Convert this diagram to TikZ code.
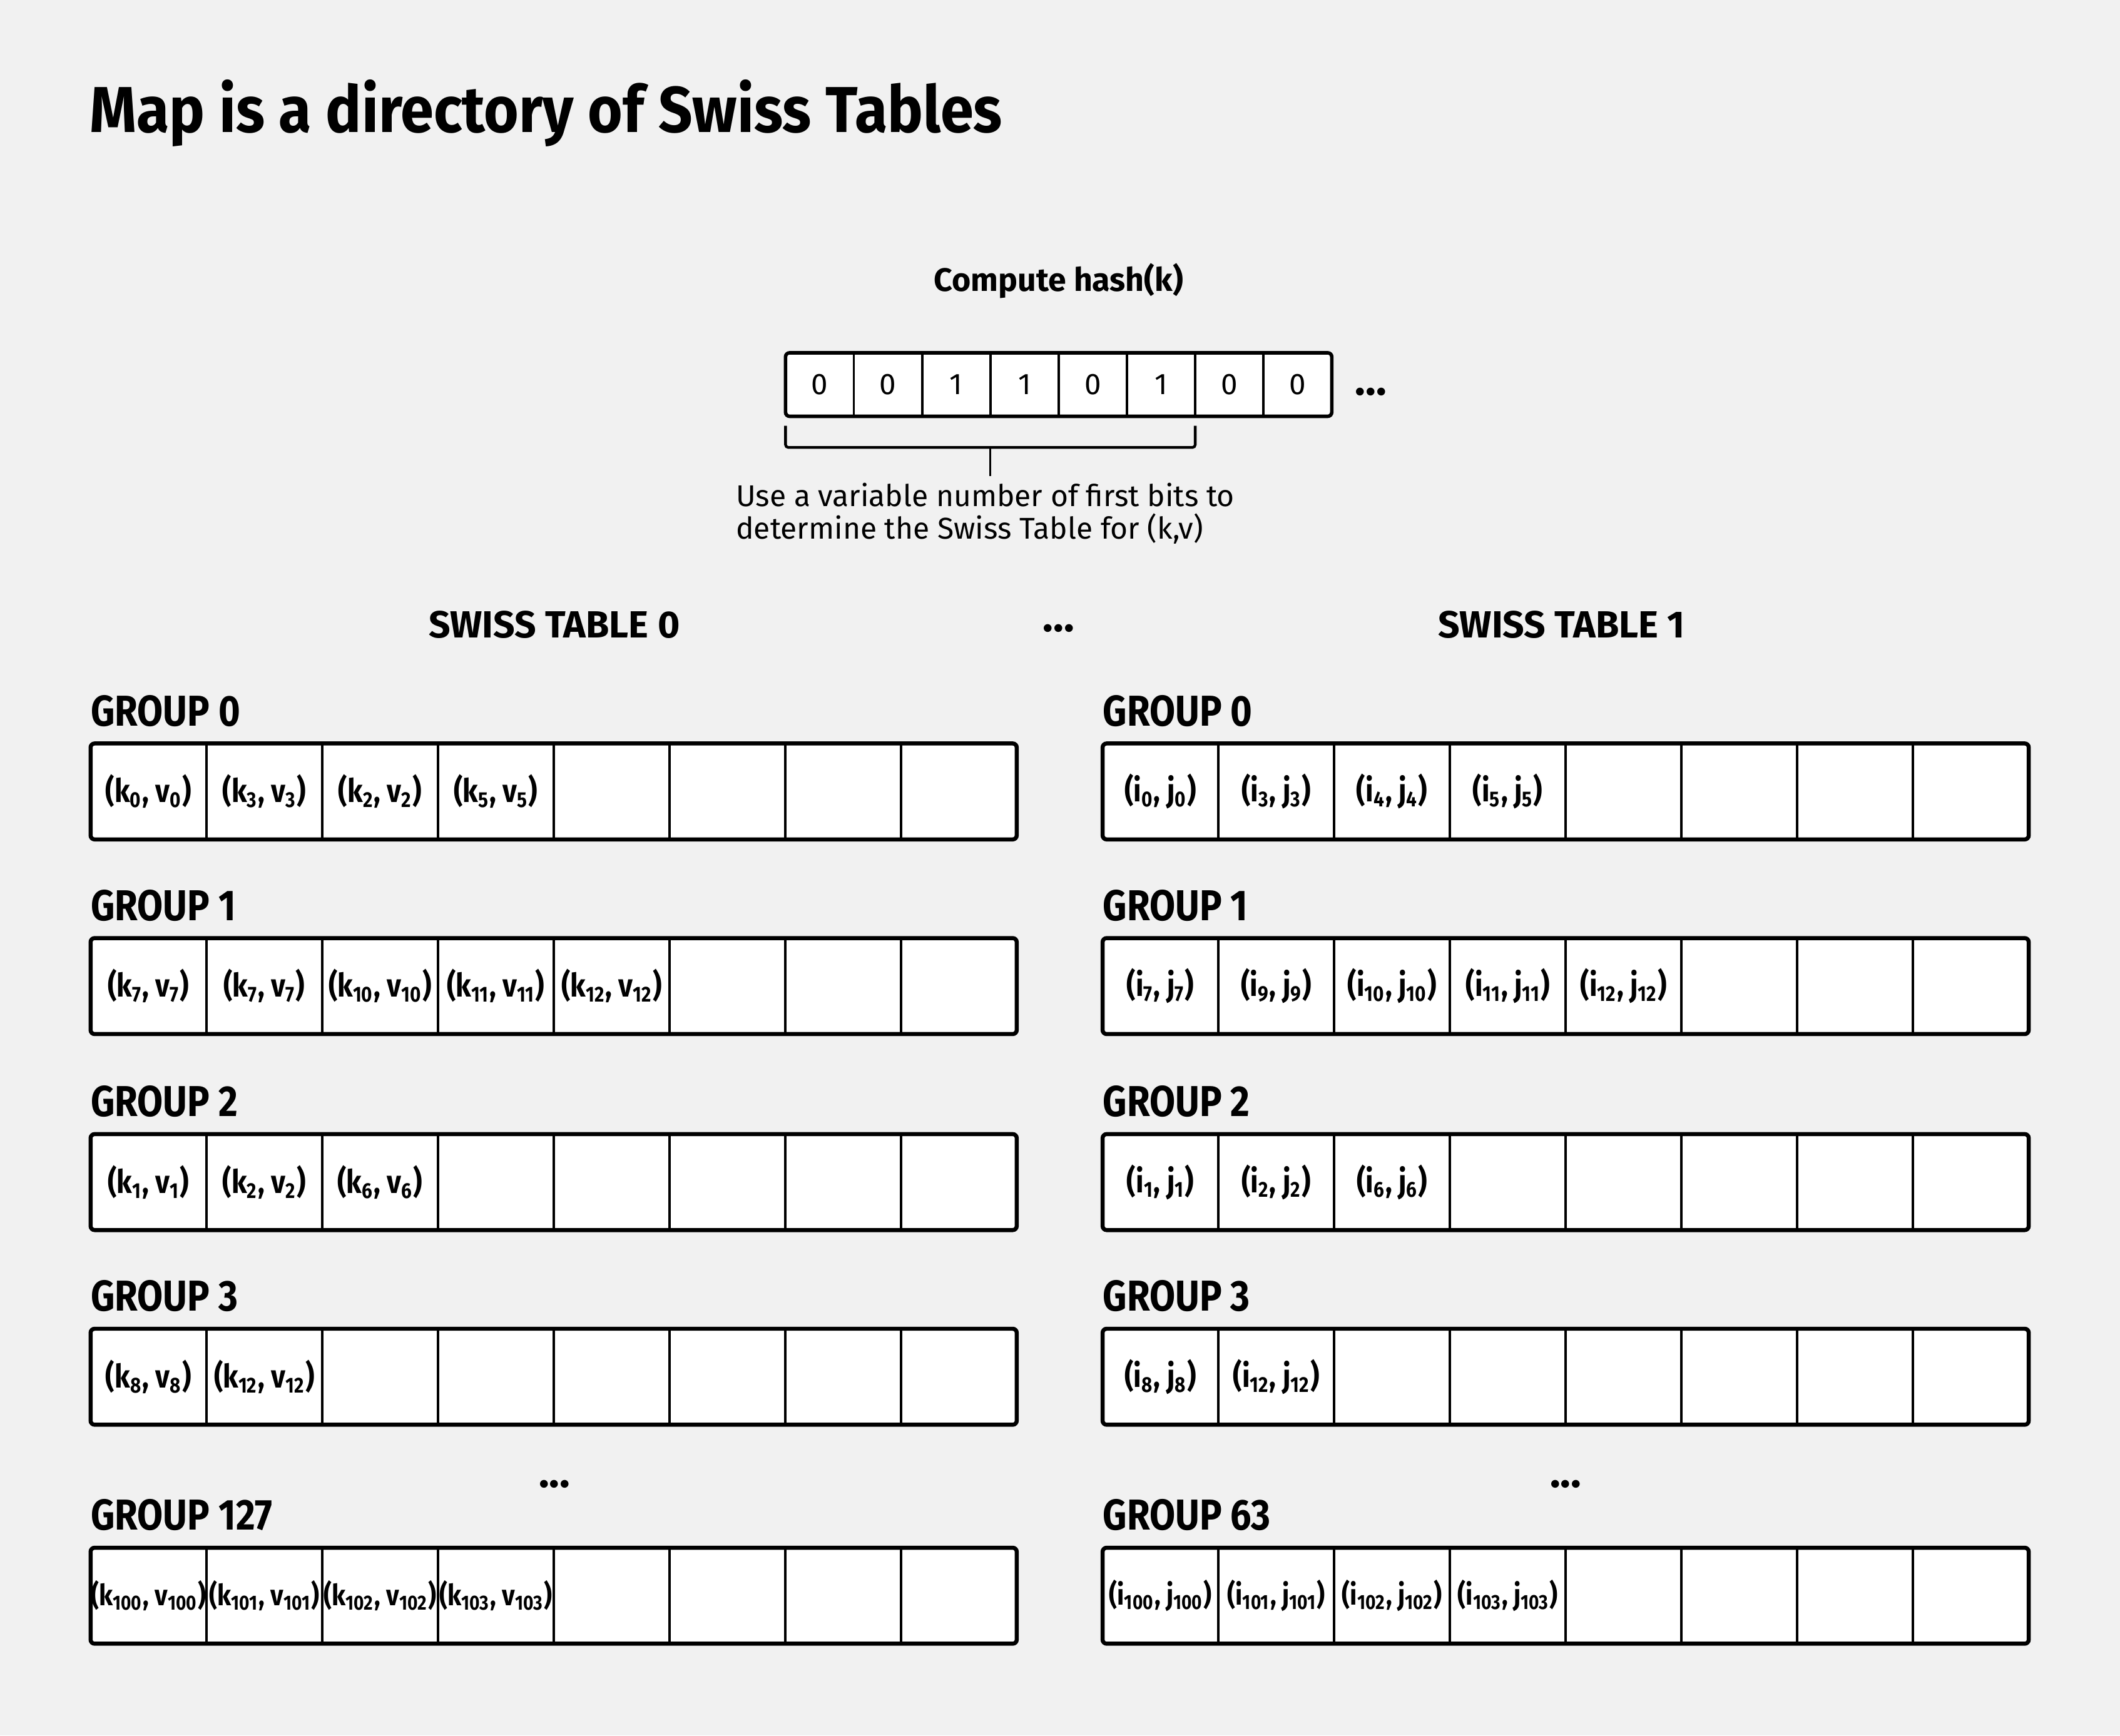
\documentclass[tikz,border=0pt]{standalone}
\usepackage{fontspec}
\setmainfont{Fira Sans}[FakeStretch=0.86]
\newfontfamily\widefont{Fira Sans}
\newfontfamily\titlefont{Fira Sans}[FakeStretch=0.92]
\newcommand{\subi}[1]{\textsubscript{#1}}
\definecolor{paper}{HTML}{F1F1F1}

\begin{document}
\begin{tikzpicture}[x=0.5pt,y=-0.5pt]
	\tikzset{
		group/.style={draw, fill=white, line width=1.5pt, rounded corners=1.5pt, outer sep=0pt, inner sep=0pt, minimum width=342.5pt, minimum height=35.5pt},
		bits/.style={draw, fill=white, line width=1.3pt, rounded corners=1.5pt, outer sep=0pt, inner sep=0pt, minimum width=202pt, minimum height=23.5pt},
		bit/.style={font=\widefont\fontsize{11}{13}\selectfont, inner sep=0pt},
		pair/.style={font=\bfseries\fontsize{12}{14}\selectfont, inner sep=0pt},
		longpair/.style={font=\bfseries\fontsize{10.8}{13}\selectfont, inner sep=0pt},
		glabel/.style={anchor=base west, font=\bfseries\fontsize{16}{18}\selectfont, inner sep=0pt},
		thead/.style={font=\widefont\bfseries\fontsize{14}{16}\selectfont, inner sep=0pt},
		more/.style={font=\widefont\bfseries\fontsize{16}{18}\selectfont, inner sep=0pt},
		divider/.style={line width=0.9pt},
		brace/.style={line width=1pt, rounded corners=1pt},
		stem/.style={line width=0.6pt}
	};

	\fill[paper] (0,0) rectangle (1568,1284);

	\node[anchor=base west, inner sep=0pt, font=\titlefont\bfseries\fontsize{24}{28}\selectfont] (title) at (66,98) {Map is a directory of Swiss Tables};

	% hash of the key
	\node[font=\widefont\bfseries\fontsize{12}{15}\selectfont, inner sep=0pt] (compute) at (783,208) {Compute hash(k)};
	\node[bits] (hash) at (783,284.5) {};
	\foreach \i in {1,...,7}
		\draw[divider] ([xshift=\i*25.25pt]hash.north west) -- ([xshift=\i*25.25pt]hash.south west);
	\foreach \b [count=\i from 0] in {0,0,1,1,0,1,0,0}
		\node[bit] (bit\i) at ([xshift=(\i+0.5)*25.25pt]hash.west) {\b};
	\node[more, anchor=west] (hashmore) at ([xshift=8.5pt,yshift=-2.75pt]hash.east) {...};

	\coordinate (bstart) at ([yshift=-3.5pt]hash.south west);
	\coordinate (bend) at ([xshift=151.5pt,yshift=-3.5pt]hash.south west);
	\coordinate (bmid) at ([xshift=75.75pt,yshift=-11.5pt]hash.south west);
	\draw[brace] (bstart) -- ++(0,16) -| (bend);

	\node[anchor=north west, align=left, inner sep=0pt, font=\widefont\fontsize{11.1}{12}\selectfont] (note) at (544,357)
		{Use a variable number of first bits to\\determine the Swiss Table for (k,v)};
	\draw[stem] (bmid) -- ([yshift=2.5pt]note.north -| bmid);

	\node[thead] (st0) at (410,462) {SWISS TABLE 0};
	\node[more] (stmore) at (783,465) {...};
	\node[thead] (st1) at (1155,462) {SWISS TABLE 1};

	% swiss table 0
	\node[group] (l0) at (409.5,585.5) {};
	\node[group] (l1) at (409.5,729.5) {};
	\node[group] (l2) at (409.5,874.5) {};
	\node[group] (l3) at (409.5,1018.5) {};
	\node[group] (l127) at (409.5,1180.5) {};

	% swiss table 1
	\node[group] (r0) at (1158,585.5) {};
	\node[group] (r1) at (1158,729.5) {};
	\node[group] (r2) at (1158,874.5) {};
	\node[group] (r3) at (1158,1018.5) {};
	\node[group] (r63) at (1158,1180.5) {};

	\foreach \g in {l0,l1,l2,l3,l127,r0,r1,r2,r3,r63}
		\foreach \i in {1,...,7}
			\draw[divider] ([xshift=\i*42.8125pt]\g.north west) -- ([xshift=\i*42.8125pt]\g.south west);

	\node[glabel] (gl0) at ([yshift=6.5pt]l0.north west) {GROUP 0};
	\node[glabel] (gl1) at ([yshift=6.5pt]l1.north west) {GROUP 1};
	\node[glabel] (gl2) at ([yshift=6.5pt]l2.north west) {GROUP 2};
	\node[glabel] (gl3) at ([yshift=6.5pt]l3.north west) {GROUP 3};
	\node[glabel] (gl127) at ([yshift=6.5pt]l127.north west) {GROUP 127};
	\node[more] (lmore) at (410,1098) {...};

	\node[glabel] (gr0) at ([yshift=6.5pt]r0.north west) {GROUP 0};
	\node[glabel] (gr1) at ([yshift=6.5pt]r1.north west) {GROUP 1};
	\node[glabel] (gr2) at ([yshift=6.5pt]r2.north west) {GROUP 2};
	\node[glabel] (gr3) at ([yshift=6.5pt]r3.north west) {GROUP 3};
	\node[glabel] (gr63) at ([yshift=6.5pt]r63.north west) {GROUP 63};
	\node[more] (rmore) at (1158,1098) {...};

	\foreach \t [count=\i from 0] in {{(k\subi{0}, v\subi{0})},{(k\subi{3}, v\subi{3})},{(k\subi{2}, v\subi{2})},{(k\subi{5}, v\subi{5})}}
		\node[pair] (l0-\i) at ([xshift=(\i+0.5)*42.8125pt]l0.west) {\t};
	\foreach \t [count=\i from 0] in {{(k\subi{7}, v\subi{7})},{(k\subi{7}, v\subi{7})},{(k\subi{10}, v\subi{10})},{(k\subi{11}, v\subi{11})},{(k\subi{12}, v\subi{12})}}
		\node[pair] (l1-\i) at ([xshift=(\i+0.5)*42.8125pt]l1.west) {\t};
	\foreach \t [count=\i from 0] in {{(k\subi{1}, v\subi{1})},{(k\subi{2}, v\subi{2})},{(k\subi{6}, v\subi{6})}}
		\node[pair] (l2-\i) at ([xshift=(\i+0.5)*42.8125pt]l2.west) {\t};
	\foreach \t [count=\i from 0] in {{(k\subi{8}, v\subi{8})},{(k\subi{12}, v\subi{12})}}
		\node[pair] (l3-\i) at ([xshift=(\i+0.5)*42.8125pt]l3.west) {\t};
	\foreach \t [count=\i from 0] in {{(k\subi{100}, v\subi{100})},{(k\subi{101}, v\subi{101})},{(k\subi{102}, v\subi{102})},{(k\subi{103}, v\subi{103})}}
		\node[longpair] (l127-\i) at ([xshift=(\i+0.5)*42.8125pt]l127.west) {\t};

	\foreach \t [count=\i from 0] in {{(i\subi{0}, j\subi{0})},{(i\subi{3}, j\subi{3})},{(i\subi{4}, j\subi{4})},{(i\subi{5}, j\subi{5})}}
		\node[pair] (r0-\i) at ([xshift=(\i+0.5)*42.8125pt]r0.west) {\t};
	\foreach \t [count=\i from 0] in {{(i\subi{7}, j\subi{7})},{(i\subi{9}, j\subi{9})},{(i\subi{10}, j\subi{10})},{(i\subi{11}, j\subi{11})},{(i\subi{12}, j\subi{12})}}
		\node[pair] (r1-\i) at ([xshift=(\i+0.5)*42.8125pt]r1.west) {\t};
	\foreach \t [count=\i from 0] in {{(i\subi{1}, j\subi{1})},{(i\subi{2}, j\subi{2})},{(i\subi{6}, j\subi{6})}}
		\node[pair] (r2-\i) at ([xshift=(\i+0.5)*42.8125pt]r2.west) {\t};
	\foreach \t [count=\i from 0] in {{(i\subi{8}, j\subi{8})},{(i\subi{12}, j\subi{12})}}
		\node[pair] (r3-\i) at ([xshift=(\i+0.5)*42.8125pt]r3.west) {\t};
	\foreach \t [count=\i from 0] in {{(i\subi{100}, j\subi{100})},{(i\subi{101}, j\subi{101})},{(i\subi{102}, j\subi{102})},{(i\subi{103}, j\subi{103})}}
		\node[longpair] (r63-\i) at ([xshift=(\i+0.5)*42.8125pt]r63.west) {\t};
\end{tikzpicture}
\end{document}
